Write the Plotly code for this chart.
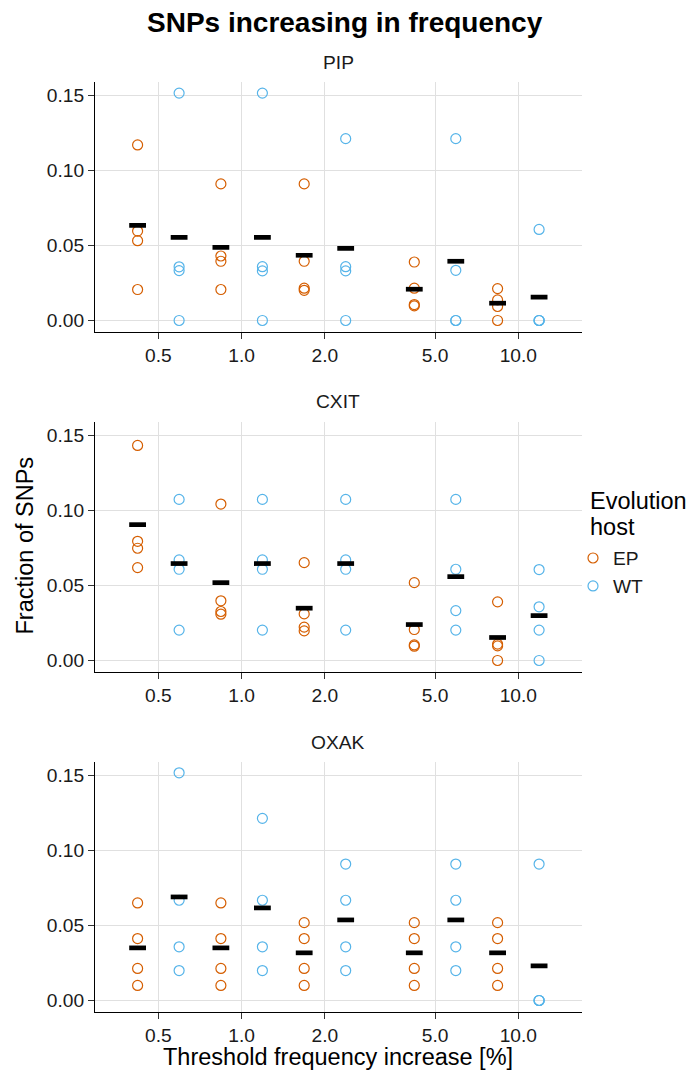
import plotly.graph_objects as go
from plotly.subplots import make_subplots

# ---------------- data ----------------
thresholds = [0.5, 1.0, 2.0, 5.0, 10.0]
tick_text = ["0.5", "1.0", "2.0", "5.0", "10.0"]
panels = ["PIP", "CXIT", "OXAK"]
hosts = ["EP", "WT"]

pip_ep = [[0.1168, 0.0595, 0.0531, 0.0206],
          [0.0909, 0.0429, 0.0394, 0.0206],
          [0.0909, 0.0394, 0.0215, 0.0201],
          [0.0389, 0.0215, 0.0106, 0.0097],
          [0.0212, 0.0137, 0.0093, 0.0000]]
pip_wt = [[0.1513, 0.0357, 0.0332, 0.0000],
          [0.1513, 0.0358, 0.0330, 0.0000],
          [0.1210, 0.0358, 0.0330, 0.0000],
          [0.1210, 0.0334, 0.0000, 0.0000],
          [0.0606, 0.0000, 0.0000, 0.0000]]
pip_ep_mean = [0.0633, 0.0487, 0.0434, 0.0208, 0.0115]
pip_wt_mean = [0.0553, 0.0553, 0.0480, 0.0394, 0.0155]

cxit_ep = [[0.1431, 0.0793, 0.0747, 0.0618],
           [0.1041, 0.0397, 0.0326, 0.0308],
           [0.0651, 0.0310, 0.0222, 0.0197],
           [0.0518, 0.0206, 0.0104, 0.0095],
           [0.0390, 0.0109, 0.0097, 0.0000]]
cxit_wt = [[0.1072, 0.0669, 0.0607, 0.0202],
           [0.1072, 0.0669, 0.0607, 0.0202],
           [0.1072, 0.0669, 0.0607, 0.0202],
           [0.1072, 0.0607, 0.0332, 0.0202],
           [0.0605, 0.0357, 0.0202, 0.0000]]
cxit_ep_mean = [0.0904, 0.0518, 0.0348, 0.0239, 0.0153]
cxit_wt_mean = [0.0645, 0.0645, 0.0645, 0.0558, 0.0299]

oxak_ep = [[0.0649, 0.0412, 0.0213, 0.0100],
           [0.0649, 0.0412, 0.0213, 0.0100],
           [0.0518, 0.0412, 0.0213, 0.0100],
           [0.0518, 0.0412, 0.0213, 0.0100],
           [0.0518, 0.0412, 0.0213, 0.0100]]
oxak_wt = [[0.1515, 0.0667, 0.0357, 0.0199],
           [0.1212, 0.0667, 0.0357, 0.0199],
           [0.0908, 0.0667, 0.0357, 0.0199],
           [0.0908, 0.0667, 0.0357, 0.0199],
           [0.0908, 0.0000, 0.0000, 0.0000]]
oxak_ep_mean = [0.0350, 0.0350, 0.0317, 0.0317, 0.0317]
oxak_wt_mean = [0.0689, 0.0616, 0.0536, 0.0536, 0.0230]

data = {
    "PIP": (pip_ep, pip_wt, pip_ep_mean, pip_wt_mean),
    "CXIT": (cxit_ep, cxit_wt, cxit_ep_mean, cxit_wt_mean),
    "OXAK": (oxak_ep, oxak_wt, oxak_ep_mean, oxak_wt_mean),
}

# ---------------- style ----------------
W, H = 696, 1075
FONT = "Liberation Sans, Arial, Helvetica, sans-serif"
colors = {"EP": "#D55E00", "WT": "#56B4E9"}
dodge = 10 ** 0.075          # dodge factor on the log axis
GRID = "#e0e0e0"
TICK_FS = 19.2
TITLE_FS = 23.5

panel_top_px = [81.7, 421.7, 761.7]
panel_h_px = 250.2
x_dom = [95 / W, 581.7 / W]
x_mid = (x_dom[0] + x_dom[1]) / 2

fig = make_subplots(rows=3, cols=1)

for i, name in enumerate(panels):
    ep, wt, ep_mean, wt_mean = data[name]
    row = i + 1
    for host, vals, fac in (("EP", ep, 1 / dodge), ("WT", wt, dodge)):
        xs, ys = [], []
        for t, group in zip(thresholds, vals):
            for v in group:
                xs.append(t * fac)
                ys.append(v)
        fig.add_trace(go.Scatter(
            x=xs, y=ys, mode="markers", name=host,
            showlegend=(i == 0),
            marker=dict(symbol="circle-open", size=10, color=colors[host],
                        line=dict(width=1.2, color=colors[host])),
            hoverinfo="x+y"), row=row, col=1)
    for host, means, fac in (("EP", ep_mean, 1 / dodge), ("WT", wt_mean, dodge)):
        fig.add_trace(go.Scatter(
            x=[t * fac for t in thresholds], y=means, mode="markers",
            showlegend=False,
            marker=dict(symbol="line-ew", size=12, color="black",
                        line=dict(width=4.7, color="black")),
            hoverinfo="y"), row=row, col=1)

    top = panel_top_px[i]
    ydom = [1 - (top + panel_h_px) / H, 1 - top / H]
    ax_common = dict(showline=True, linecolor="black", linewidth=1.1,
                     ticks="outside", ticklen=6, tickwidth=1.1, tickcolor="#333333",
                     showgrid=True, gridcolor=GRID, gridwidth=1,
                     zeroline=False, mirror=False,
                     tickfont=dict(family=FONT, size=TICK_FS, color="#1a1a1a"))
    fig.update_xaxes(type="log", range=[-0.530, 1.229], domain=x_dom,
                     tickvals=thresholds, ticktext=tick_text,
                     row=row, col=1, **ax_common)
    fig.update_yaxes(range=[-0.0076, 0.1589], domain=ydom,
                     tickvals=[0, 0.05, 0.10, 0.15],
                     ticktext=["0.00", "0.05", "0.10", "0.15"],
                     row=row, col=1, **ax_common)
    fig.add_annotation(text=name, x=x_mid, y=1 - (top - 19.7) / H,
                       xref="paper", yref="paper", showarrow=False,
                       font=dict(family=FONT, size=TICK_FS, color="#1a1a1a"),
                       xanchor="center", yanchor="middle")

# titles
fig.add_annotation(text="<b>SNPs increasing in frequency</b>", x=345 / W, y=1 - 22 / H,
                   xref="paper", yref="paper", showarrow=False,
                   font=dict(family=FONT, size=28, color="black"),
                   xanchor="center", yanchor="middle")
fig.add_annotation(text="Fraction of SNPs", x=24.5 / W, y=1 - 546 / H, textangle=-90,
                   xref="paper", yref="paper", showarrow=False,
                   font=dict(family=FONT, size=TITLE_FS, color="black"),
                   xanchor="center", yanchor="middle")
fig.add_annotation(text="Threshold frequency increase [%]", x=x_mid,
                   y=1 - 1057.3 / H, xref="paper", yref="paper", showarrow=False,
                   font=dict(family=FONT, size=TITLE_FS, color="black"),
                   xanchor="center", yanchor="middle")
# legend title (two lines, ggplot-like tight spacing)
for txt, ypx in (("Evolution", 500.7), ("host", 526.7)):
    fig.add_annotation(text=txt, x=588 / W, y=1 - ypx / H,
                       xref="paper", yref="paper", showarrow=False,
                       font=dict(family=FONT, size=TITLE_FS, color="black"),
                       xanchor="left", yanchor="middle")

fig.update_layout(
    width=W, height=H,
    margin=dict(l=0, r=0, t=0, b=0),
    paper_bgcolor="white", plot_bgcolor="white",
    font=dict(family=FONT, color="black"),
    legend=dict(
        font=dict(family=FONT, size=TICK_FS, color="#1a1a1a"),
        x=573 / W, y=1 - 539 / H, xanchor="left", yanchor="top",
        tracegroupgap=0, bgcolor="rgba(0,0,0,0)", itemsizing="trace"),
)

fig.write_html("out.html")
